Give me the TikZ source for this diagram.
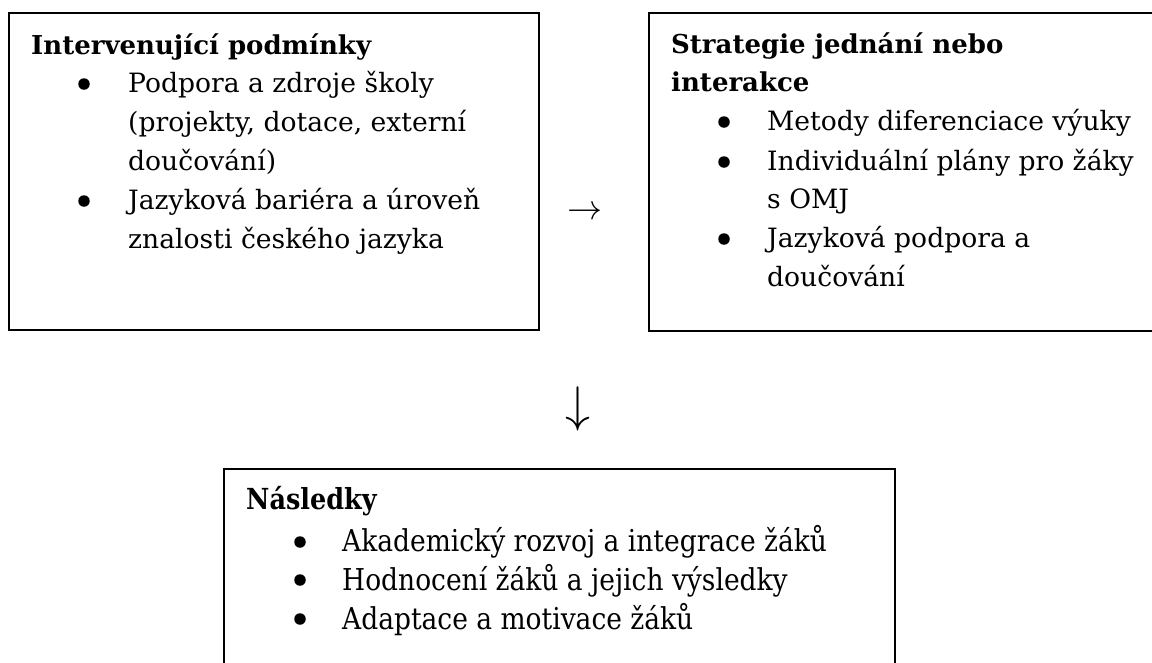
\documentclass[tikz,border=0pt]{standalone}
\usepackage{graphicx}
\usepackage{fontspec}
\setmainfont{DejaVu Serif}
\newfontfamily\condfont[FakeStretch=0.88]{DejaVu Serif}
\tikzset{
  box/.style={draw, line width=1.5pt, inner sep=0pt},
  head/.style={anchor=base west, inner sep=0pt, font=\bfseries\fontsize{26}{30}\selectfont},
  item/.style={anchor=base west, inner sep=0pt, font=\fontsize{26.6}{30}\selectfont},
  headc/.style={anchor=base west, inner sep=0pt, font=\condfont\bfseries\fontsize{29}{30}\selectfont},
  itemc/.style={anchor=base west, inner sep=0pt, font=\condfont\fontsize{30.1}{32}\selectfont},
  bul/.style={circle, fill, inner sep=0pt, minimum size=11.5pt},
  glyph/.style={inner sep=0pt, anchor=center},
}
\begin{document}
\begin{tikzpicture}[x=1pt,y=-1pt]
\path[use as bounding box] (0,0) rectangle (1152,662);
\clip (0,0) rectangle (1152,662);
% boxes
\node[box, minimum width=530pt, minimum height=317pt] (b1) at (274,171.5) {};
\node[box, minimum width=516pt, minimum height=318pt] (b2) at (907,172) {};
\node[box, minimum width=671pt, minimum height=231pt] (b3) at (559.5,584.5) {};
% box 1
\node[head] (h1) at (31,54) {Intervenující podmínky};
\node[bul] (d11) at (84,84) {};
\node[bul] (d12) at (84,201) {};
\node[item] (t11) at (128,92) {Podpora a zdroje školy};
\node[item] (t12) at (128,131) {(projekty, dotace, externí};
\node[item] (t13) at (128,170) {doučování)};
\node[item] (t14) at (128,209) {Jazyková bariéra a úroveň};
\node[item] (t15) at (128,248) {znalosti českého jazyka};
% box 2
\node[head] (h2a) at (671,53) {Strategie jednání nebo};
\node[head] (h2b) at (671,91) {interakce};
\node[bul] (d21) at (724,122) {};
\node[bul] (d22) at (724,162) {};
\node[bul] (d23) at (724,239) {};
\node[item] (t21) at (767,130) {Metody diferenciace výuky};
\node[item] (t22) at (767,170) {Individuální plány pro žáky};
\node[item] (t23) at (767,208) {s OMJ};
\node[item] (t24) at (767,247) {Jazyková podpora a};
\node[item] (t25) at (767,286) {doučování};
% box 3
\node[headc] (h3) at (246,509) {Následky};
\node[bul] (d31) at (300,542) {};
\node[bul] (d32) at (300,580) {};
\node[bul] (d33) at (300,619) {};
\node[itemc] (t31) at (342,551) {Akademický rozvoj a integrace žáků};
\node[itemc] (t32) at (342,590) {Hodnocení žáků a jejich výsledky};
\node[itemc] (t33) at (342,629) {Adaptace a motivace žáků};
% arrows
\node[glyph] (a1) at (584.5,213) {\scalebox{3.5}{$\rightarrow$}};
\node[glyph] (a2) at (578,409) {\scalebox{5}{$\downarrow$}};
\end{tikzpicture}
\end{document}
